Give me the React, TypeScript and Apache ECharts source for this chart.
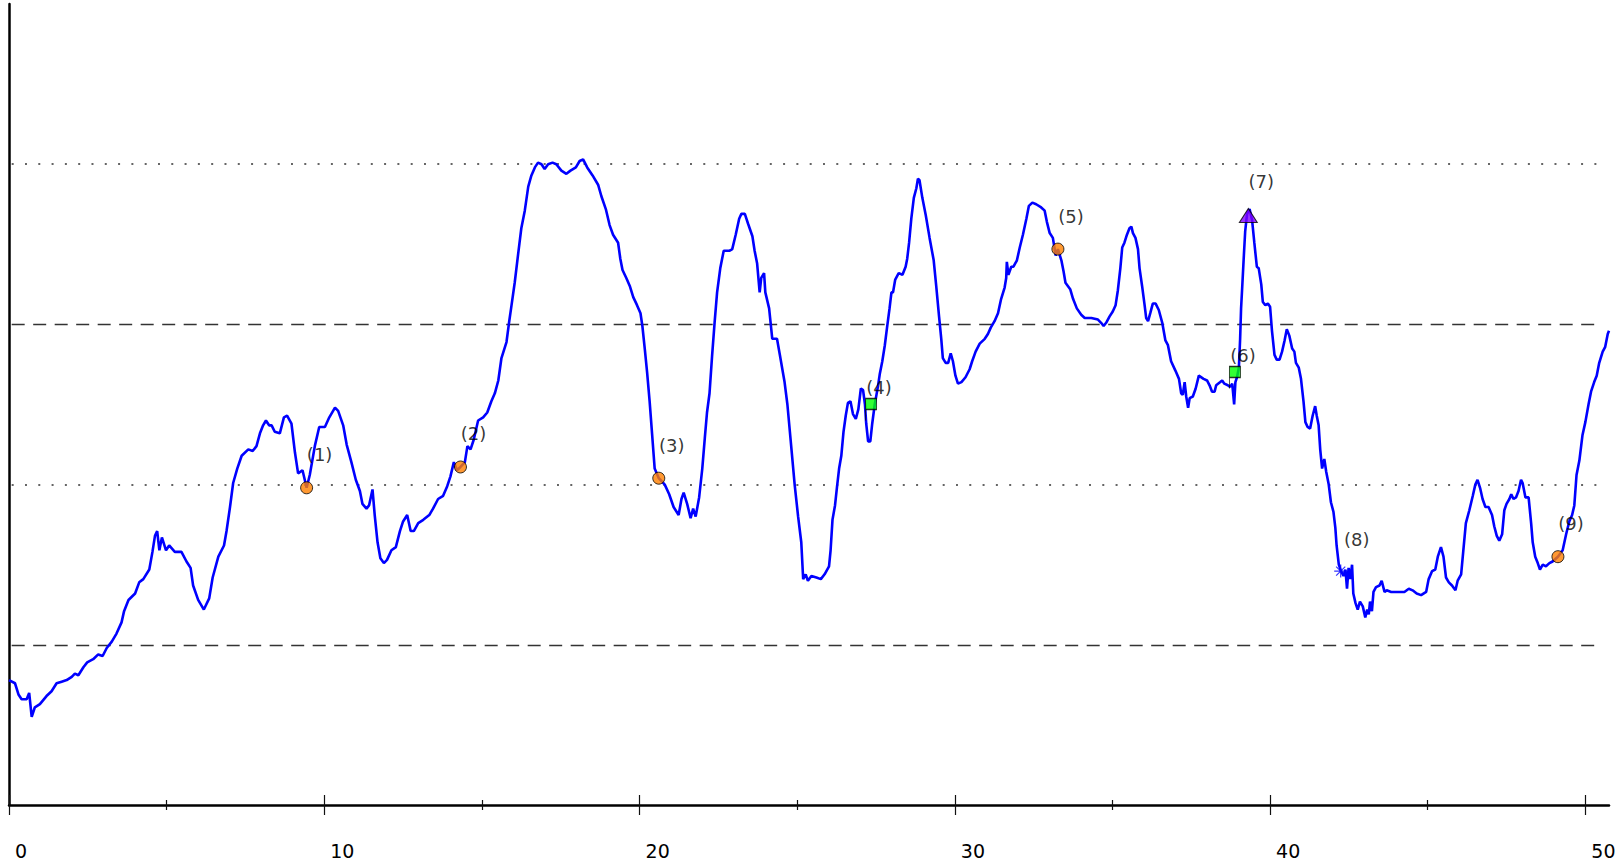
import React, { useEffect, useRef } from "react";
import * as echarts from "echarts";

const xMajorTicks = [0, 10, 20, 30, 40, 50];
const xMinorTicks = [5, 15, 25, 35, 45];
const dashedLevels = [1, 3];
const dottedLevels = [2, 4];

const segA = [[0,0.78],[0.19,0.76],[0.30,0.69],[0.40,0.66],[0.56,0.66],[0.64,0.70],[0.72,0.55],[0.82,0.61],[0.98,0.63],[1.19,0.68],[1.35,0.71],[1.51,0.76],[1.67,0.77],[1.83,0.78],[1.99,0.80],[2.09,0.82],[2.20,0.81],[2.36,0.86],[2.48,0.89],[2.67,0.91],[2.83,0.94],[2.97,0.93],[3.10,0.98],[3.26,1.02],[3.41,1.07],[3.57,1.14],[3.65,1.21],[3.79,1.28],[4.00,1.32],[4.13,1.39],[4.26,1.41],[4.45,1.47],[4.55,1.58],[4.63,1.68],[4.70,1.71],[4.77,1.59],[4.85,1.67],[4.98,1.59],[5.08,1.62],[5.26,1.58],[5.47,1.58],[5.63,1.52],[5.76,1.48],[5.84,1.37],[6.00,1.28],[6.18,1.22],[6.35,1.29],[6.46,1.42],[6.64,1.55],[6.82,1.62],[6.90,1.71],[7.01,1.86],[7.11,2.01],[7.24,2.10],[7.38,2.18],[7.59,2.22],[7.73,2.21],[7.85,2.24],[7.96,2.32],[8.06,2.37],[8.15,2.40],[8.25,2.37],[8.33,2.37],[8.43,2.33],[8.59,2.32],[8.72,2.42],[8.82,2.43],[8.96,2.38],[9.07,2.20],[9.17,2.07],[9.31,2.09],[9.44,1.98],[9.54,2.06],[9.70,2.24],[9.84,2.36],[10.02,2.36],[10.16,2.42],[10.34,2.48],[10.44,2.46],[10.60,2.37],[10.71,2.25],[10.86,2.14],[11.00,2.03],[11.13,1.96],[11.21,1.88],[11.34,1.85],[11.42,1.87],[11.53,1.97],[11.60,1.81],[11.69,1.64],[11.78,1.54],[11.89,1.51],[11.99,1.53],[12.13,1.59],[12.27,1.61],[12.40,1.71]];

const segB = [[12.50,1.77],[12.63,1.81],[12.74,1.71],[12.84,1.71],[12.98,1.76],[13.14,1.78],[13.33,1.81],[13.45,1.85],[13.61,1.91],[13.77,1.93],[13.90,1.99],[14.00,2.05],[14.11,2.14],[14.21,2.09],[14.32,2.11],[14.46,2.14],[14.54,2.24],[14.64,2.22],[14.74,2.28],[14.88,2.40],[15.04,2.42],[15.17,2.45],[15.30,2.52],[15.41,2.57],[15.52,2.65],[15.62,2.79],[15.78,2.89],[15.86,3.01],[15.94,3.12],[16.04,3.26],[16.15,3.44],[16.25,3.60],[16.36,3.71],[16.47,3.86],[16.57,3.93],[16.68,3.98],[16.78,4.01],[16.89,4.00],[16.99,3.97],[17.10,4.00],[17.24,4.01],[17.36,4.00],[17.52,3.96],[17.68,3.94],[17.81,3.96],[17.98,3.98],[18.10,4.02],[18.21,4.03],[18.34,3.98],[18.51,3.93],[18.69,3.87],[18.79,3.80],[18.93,3.72],[19.05,3.62],[19.16,3.56],[19.32,3.51],[19.39,3.41],[19.46,3.34],[19.58,3.29],[19.69,3.24],[19.80,3.17],[19.92,3.12],[20.03,3.07],[20.09,2.99],[20.17,2.84],[20.24,2.70],[20.32,2.52],[20.40,2.31],[20.48,2.10],[20.61,2.04],[20.80,2.00],[20.94,1.94],[21.08,1.86],[21.24,1.81],[21.33,1.91],[21.40,1.95],[21.51,1.88],[21.62,1.79],[21.70,1.85],[21.78,1.80],[21.89,1.92],[21.99,2.10],[22.07,2.29],[22.14,2.45],[22.22,2.57],[22.30,2.80],[22.38,3.01],[22.46,3.20],[22.56,3.35],[22.67,3.46],[22.86,3.46],[22.94,3.47],[23.05,3.56],[23.16,3.66],[23.23,3.69],[23.34,3.69],[23.44,3.63],[23.58,3.55],[23.65,3.46],[23.73,3.38],[23.81,3.20],[23.86,3.29],[23.95,3.32],[23.99,3.20],[24.11,3.10],[24.21,2.91],[24.36,2.91],[24.45,2.81],[24.60,2.64],[24.69,2.50],[24.81,2.24],[24.92,2.00],[25.03,1.80]];

const segC = [[25.13,1.64],[25.19,1.41],[25.27,1.44],[25.34,1.40],[25.45,1.43],[25.61,1.42],[25.75,1.41],[25.87,1.44],[26.01,1.49],[26.06,1.59],[26.12,1.78],[26.20,1.87],[26.26,1.98],[26.33,2.10],[26.40,2.18],[26.47,2.33],[26.54,2.43],[26.61,2.51],[26.69,2.52],[26.77,2.44],[26.86,2.41],[26.94,2.47],[27.02,2.60],[27.09,2.59],[27.15,2.50],[27.19,2.38],[27.25,2.27],[27.32,2.27],[27.38,2.38],[27.46,2.50],[27.56,2.61],[27.62,2.69],[27.70,2.77],[27.78,2.87],[27.85,2.98],[27.93,3.10],[27.99,3.20],[28.04,3.20],[28.11,3.28],[28.22,3.32],[28.34,3.31],[28.44,3.36],[28.49,3.41],[28.55,3.51],[28.62,3.66],[28.70,3.79],[28.78,3.85],[28.83,3.91],[28.88,3.90],[28.97,3.79],[29.08,3.68],[29.20,3.54],[29.33,3.40],[29.41,3.24],[29.50,3.05],[29.57,2.91],[29.62,2.79],[29.71,2.76],[29.79,2.76],[29.87,2.82],[29.94,2.77],[30.02,2.68],[30.10,2.63],[30.21,2.64],[30.34,2.67],[30.47,2.72],[30.55,2.77],[30.66,2.83],[30.79,2.88],[30.95,2.91],[31.05,2.94],[31.14,2.98],[31.26,3.02],[31.37,3.07],[31.47,3.16],[31.58,3.23],[31.63,3.29],[31.65,3.39],[31.70,3.31],[31.79,3.36],[31.86,3.36],[31.97,3.40],[32.06,3.48],[32.16,3.56],[32.27,3.66],[32.35,3.74],[32.46,3.76],[32.58,3.75],[32.74,3.73],[32.85,3.71],[32.92,3.64],[33.01,3.57],[33.11,3.54],[33.20,3.43],[33.27,3.47],[33.38,3.40],[33.45,3.33],[33.51,3.26],[33.66,3.22],[33.75,3.16],[33.87,3.10],[34.01,3.06],[34.12,3.04],[34.19,3.04],[34.33,3.04],[34.54,3.03],[34.64,3.01],[34.72,2.99],[34.80,3.01],[34.91,3.05],[35.01,3.08],[35.10,3.12],[35.17,3.21],[35.25,3.35],[35.31,3.48],[35.38,3.51],[35.46,3.56],[35.54,3.60],[35.60,3.61],[35.65,3.57],[35.73,3.54],[35.81,3.47],[35.86,3.35],[35.94,3.24],[36.02,3.12],[36.07,3.04],[36.13,3.02],[36.20,3.07],[36.28,3.13],[36.37,3.13],[36.47,3.09],[36.58,3.01],[36.68,2.90],[36.76,2.87],[36.86,2.77],[37.00,2.71],[37.11,2.66],[37.18,2.57],[37.23,2.56],[37.29,2.64],[37.34,2.55],[37.40,2.48],[37.45,2.54],[37.55,2.55],[37.64,2.60],[37.74,2.68]];

const segD = [[37.89,2.66],[38.00,2.65],[38.08,2.62],[38.16,2.58],[38.24,2.58],[38.29,2.62],[38.42,2.64],[38.48,2.65],[38.55,2.63],[38.66,2.62],[38.73,2.61],[38.80,2.63],[38.86,2.50],[38.90,2.64],[38.95,2.67],[39.01,2.73],[39.05,2.91],[39.08,3.10],[39.11,3.21],[39.16,3.40],[39.21,3.58],[39.27,3.69],[39.35,3.72],[39.43,3.65],[39.50,3.51],[39.58,3.36],[39.64,3.35],[39.72,3.25],[39.77,3.14],[39.85,3.12],[39.93,3.13],[40.00,3.11],[40.06,2.96],[40.14,2.81],[40.21,2.78],[40.30,2.78],[40.38,2.83],[40.46,2.90],[40.53,2.97],[40.61,2.93],[40.70,2.85],[40.77,2.83],[40.82,2.76],[40.91,2.73],[40.98,2.66],[41.06,2.52],[41.12,2.39],[41.19,2.36],[41.27,2.35],[41.35,2.43],[41.43,2.49],[41.48,2.43],[41.54,2.37],[41.59,2.22],[41.65,2.10],[41.72,2.16],[41.78,2.08],[41.86,2.00],[41.93,1.89],[42.01,1.83],[42.07,1.73],[42.11,1.62],[42.18,1.50],[42.25,1.46],[42.33,1.43],[42.39,1.47],[42.44,1.35],[42.49,1.48],[42.54,1.41],[42.60,1.50],[42.64,1.32],[42.71,1.26],[42.78,1.22],[42.85,1.27],[42.94,1.24],[43.02,1.17],[43.08,1.22],[43.13,1.19],[43.17,1.27],[43.23,1.21],[43.28,1.33],[43.36,1.36],[43.47,1.37],[43.54,1.40],[43.63,1.33],[43.70,1.34],[43.84,1.33],[44.05,1.33],[44.26,1.33],[44.40,1.35],[44.52,1.34],[44.65,1.32],[44.79,1.31],[44.95,1.33],[45.03,1.41],[45.14,1.46],[45.24,1.47],[45.32,1.55],[45.42,1.61],[45.50,1.55],[45.58,1.42],[45.67,1.39],[45.77,1.37],[45.88,1.34],[45.95,1.40],[46.06,1.44],[46.13,1.59],[46.21,1.76],[46.32,1.84],[46.43,1.93],[46.51,2.00],[46.58,2.03],[46.66,1.98],[46.74,1.91],[46.83,1.86],[46.93,1.86],[47.04,1.81],[47.11,1.74],[47.19,1.68],[47.27,1.65],[47.36,1.69],[47.43,1.84],[47.50,1.88],[47.59,1.91],[47.65,1.94],[47.72,1.91],[47.80,1.92],[47.88,1.96],[47.96,2.03],[48.01,2.01],[48.10,1.92],[48.20,1.92],[48.28,1.76],[48.33,1.64],[48.41,1.55],[48.49,1.51],[48.56,1.47],[48.65,1.50],[48.75,1.49],[48.86,1.51],[48.96,1.52],[49.13,1.55],[49.28,1.59],[49.39,1.69],[49.49,1.77],[49.58,1.81],[49.65,1.87],[49.72,2.06],[49.81,2.15],[49.91,2.31],[50.00,2.39],[50.10,2.50],[50.18,2.58],[50.28,2.64],[50.36,2.68],[50.44,2.76],[50.55,2.83],[50.63,2.86],[50.71,2.94],[50.75,2.96]];

const markerLabels = ["(1)", "(2)", "(3)", "(4)", "(5)", "(6)", "(7)", "(8)", "(9)"];
const markerX = [9.44, 14.32, 20.61, 27.17, 33.27, 38.71, 39.31, 42.24, 49.13];
const markerY = [1.98, 2.11, 2.04, 2.40, 3.47, 2.60, 3.68, 1.46, 1.55];
const markerShape = ["circle", "circle", "circle", "flag", "circle", "flag", "triangle", "asterisk", "circle"];

const X_MAX = 50.75;
const GRID_START = 0.085;
const GRID_END = 50.45;

function symbolFor(shape: string) {
  const lbl = { show: true, position: "inside", color: "#000", fontSize: 18, fontFamily: "DejaVu Sans", textBorderWidth: 0 };
  if (shape === "flag") {
    return {
      symbol: "path://M0,0L10,0L10,10L0,10ZM0,10L0,20",
      symbolSize: [11, 22],
      symbolOffset: [5.5, -11],
      itemStyle: { color: "#00ff00", borderColor: "#000", borderWidth: 1.2 },
      label: { ...lbl, offset: [8, -22] },
    };
  }
  if (shape === "triangle") {
    return {
      symbol: "triangle",
      symbolSize: [18, 14],
      itemStyle: { color: "#8000ff", borderColor: "#000", borderWidth: 1 },
      label: { ...lbl, offset: [13, -34] },
    };
  }
  if (shape === "asterisk") {
    return {
      symbol: "path://M0,5L10,5M1.5,1.5L8.5,8.5M1.5,8.5L8.5,1.5M5,0L5,10",
      symbolSize: 13,
      itemStyle: { color: "rgba(0,0,0,0)", borderColor: "#0000ff", borderWidth: 1.2 },
      label: { ...lbl, offset: [16, -32] },
    };
  }
  return {
    symbol: "circle",
    symbolSize: 12,
    itemStyle: { color: "#ff8000", borderColor: "#000", borderWidth: 1 },
    label: { ...lbl, offset: [13, -33] },
  };
}

export default function App() {
  const ref = useRef<HTMLDivElement>(null);
  useEffect(() => {
    const chart = echarts.init(ref.current!, null, { renderer: "svg" });
    const linePts = [...segA, ...segB, ...segC, ...segD];
    const tickStyle = { color: "#111", width: 1.2 };
    const baseAxis = {
      type: "value",
      min: 0,
      max: X_MAX,
      gridIndex: 0,
      position: "bottom",
      offset: 0,
      splitLine: { show: false },
    };
    const xAxes = [
      {
        ...baseAxis,
        axisLine: { show: true, onZero: false, lineStyle: { color: "#000", width: 2.5 } },
        axisTick: { show: true, inside: false, length: 10, customValues: xMajorTicks, lineStyle: tickStyle },
        axisLabel: {
          show: true,
          customValues: xMajorTicks,
          align: "left",
          padding: [0, 0, 0, 6],
          margin: 36,
          fontSize: 19,
          color: "#000",
          fontFamily: "DejaVu Sans",
        },
      },
      {
        ...baseAxis,
        axisLine: { show: false, onZero: false },
        axisTick: { show: true, inside: true, length: 10, customValues: xMajorTicks, lineStyle: tickStyle },
        axisLabel: { show: false },
      },
      {
        ...baseAxis,
        axisLine: { show: false, onZero: false },
        axisTick: { show: true, inside: false, length: 5, customValues: xMinorTicks, lineStyle: tickStyle },
        axisLabel: { show: false },
      },
      {
        ...baseAxis,
        axisLine: { show: false, onZero: false },
        axisTick: { show: true, inside: true, length: 5, customValues: xMinorTicks, lineStyle: tickStyle },
        axisLabel: { show: false },
      },
    ];
    const dashedStyle = { color: "#333333", width: 1.3, type: [13, 8.5] };
    const dottedStyle = { color: "#333333", width: 1.6, type: [2, 11.3] };
    const gridLines = [
      ...dashedLevels.map((v) => [
        { coord: [GRID_START, v], lineStyle: dashedStyle },
        { coord: [GRID_END, v], lineStyle: dashedStyle },
      ]),
      ...dottedLevels.map((v) => [
        { coord: [GRID_START, v], lineStyle: dottedStyle },
        { coord: [GRID_END, v], lineStyle: dottedStyle },
      ]),
    ];
    const markerData = markerLabels.map((t, i) => {
      const s = symbolFor(markerShape[i]);
      return {
        value: [markerX[i], markerY[i]],
        ...s,
        label: { ...s.label, formatter: t },
      };
    });
    chart.setOption({
      animation: false,
      backgroundColor: "#ffffff",
      grid: { left: 9, right: 13, top: 4, bottom: 60, containLabel: false },
      xAxis: xAxes,
      yAxis: {
        type: "value",
        min: 0,
        max: 5,
        axisLine: { show: true, onZero: false, lineStyle: { color: "#000", width: 2.5 } },
        axisTick: { show: false },
        axisLabel: { show: false },
        splitLine: { show: false },
      },
      series: [
        {
          type: "line",
          data: linePts,
          xAxisIndex: 0,
          yAxisIndex: 0,
          symbol: "none",
          showSymbol: false,
          silent: true,
          z: 2,
          lineStyle: { color: "#0000ff", width: 2.6 },
          markLine: {
            silent: true,
            z: 1,
            symbol: ["none", "none"],
            label: { show: false },
            data: gridLines,
          },
        },
        {
          type: "scatter",
          data: markerData,
          xAxisIndex: 0,
          yAxisIndex: 0,
          z: 4,
          silent: true,
        },
      ],
    });
    return () => chart.dispose();
  }, []);
  return (
    <div
      ref={ref}
      style={{ position: "fixed", left: 0, top: 0, width: 1622, height: 865, background: "#fff" }}
    />
  );
}
